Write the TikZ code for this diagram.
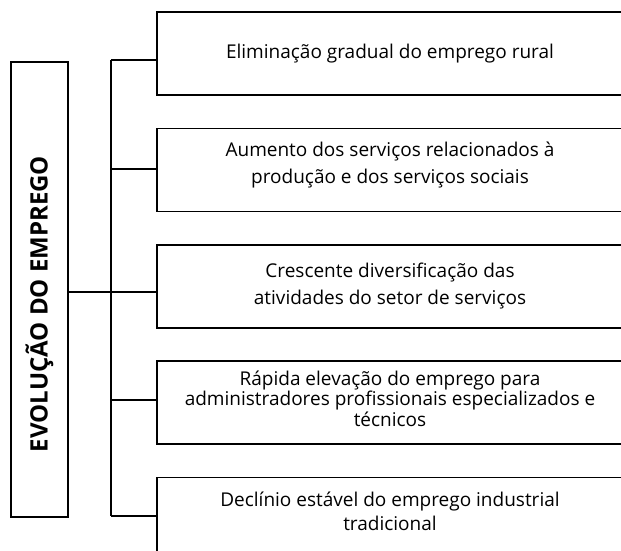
\documentclass[tikz,border=0pt]{standalone}
\usepackage{fontspec}
\setmainfont{Open Sans}
\usetikzlibrary{positioning}

\tikzset{
  item/.style = {draw, rectangle, minimum width=466pt, minimum height=83pt,
                 inner sep=0pt, align=center, font=\fontsize{19}{27}\selectfont},
  titlebox/.style = {draw, rectangle, minimum width=57pt, minimum height=455pt},
  titletext/.style = {rotate=90, font=\fontsize{24}{28}\selectfont\bfseries},
}

\begin{document}
\begin{tikzpicture}[x = 1pt, y = -1pt, line width = 1.6pt, node distance = 31.75pt]

\useasboundingbox (0,0) rectangle (621,550);
\clip (0,0) rectangle (621,550);

% left box
\node[titlebox]			(evo)	at (39.5,289.5)		{};
\node[titletext]		(evot)	at (39.5,304)		{EVOLUÇÃO DO EMPREGO};

% boxes on the right
\node[item]				(b1)	at (390,53.5)		{Eliminação gradual do emprego rural};
\node[item, text depth=14pt]
						(b2)	[below=of b1]		{Aumento dos serviços relacionados à\\produção e dos serviços sociais};
\node[item]				(b3)	[below=of b2]		{Crescente diversificação das\\atividades do setor de serviços};
\node[item, text depth=8pt, font=\fontsize{19}{20.5}\selectfont]
						(b4)	[below=of b3]		{Rápida elevação do emprego para\\administradores profissionais especializados e\\técnicos};
\node[item, text depth=16pt, font=\fontsize{19}{24}\selectfont]
						(b5)	[below=of b4]		{Declínio estável do emprego industrial\\tradicional};

% joints on the spine
\coordinate				(j1)	at (111,60);
\coordinate				(j2)	at (111,169);
\coordinate				(j3)	at (111,292);
\coordinate				(j4)	at (111,400);
\coordinate				(j5)	at (111,516);

\draw	(j1)	--	(j5);
\draw	(j1)	--	(j1 -| b1.west);
\draw	(j2)	--	(j2 -| b2.west);
\draw	(evo.east |- j3)	--	(j3 -| b3.west);
\draw	(j4)	--	(j4 -| b4.west);
\draw	(j5)	--	(j5 -| b5.west);

\end{tikzpicture}
\end{document}
